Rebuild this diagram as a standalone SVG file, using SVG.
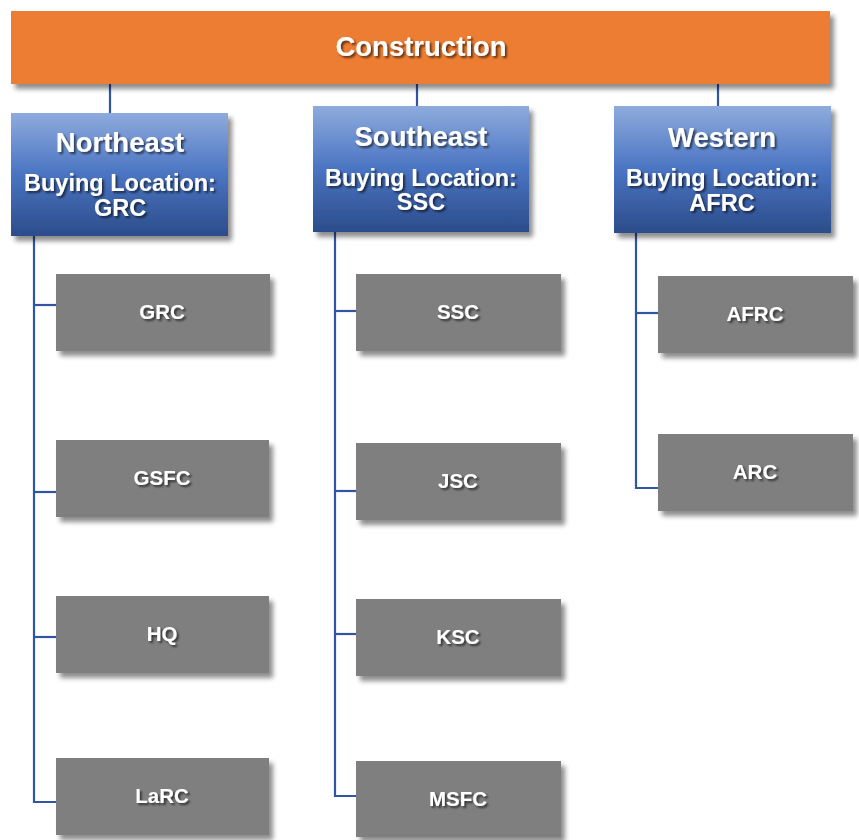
<svg xmlns="http://www.w3.org/2000/svg" width="859" height="840" viewBox="0 0 859 840">
<defs>
<linearGradient id="blueGrad" x1="0" y1="0" x2="0" y2="1">
<stop offset="0" stop-color="#8EABDD"/>
<stop offset="0.5" stop-color="#4A74C2"/>
<stop offset="1" stop-color="#2C4C8A"/>
</linearGradient>
<filter id="shadow" x="-10%" y="-10%" width="130%" height="140%">
<feGaussianBlur in="SourceAlpha" stdDeviation="2.5"/>
<feOffset dx="4" dy="5" result="b"/>
<feComponentTransfer><feFuncA type="linear" slope="0.45"/></feComponentTransfer>
<feMerge><feMergeNode/><feMergeNode in="SourceGraphic"/></feMerge>
</filter>
<filter id="tshadow" x="-10%" y="-20%" width="130%" height="150%">
<feGaussianBlur in="SourceAlpha" stdDeviation="1"/>
<feOffset dx="1.5" dy="1.5" result="b"/>
<feComponentTransfer><feFuncA type="linear" slope="0.6"/></feComponentTransfer>
<feMerge><feMergeNode/><feMergeNode in="SourceGraphic"/></feMerge>
</filter>
</defs>
<style>
text { font-family: "Liberation Sans", Arial, sans-serif; font-weight: bold; fill: #FFFFFF; text-anchor: middle; filter: url(#tshadow); }
.top { fill: #ED7D31; filter: url(#shadow); }
.region { fill: url(#blueGrad); filter: url(#shadow); }
.leaf { fill: #7F7F7F; filter: url(#shadow); }
.t1 { font-size: 27.5px; }
.t2 { font-size: 23.5px; }
.t3 { font-size: 20.5px; }
.conn { fill: none; stroke: #2F55A4; stroke-width: 2.2; }
</style>
<g id="connectors">
<path class="conn" d="M110,84 V113"/>
<path class="conn" d="M417,84 V106"/>
<path class="conn" d="M718,84 V106"/>
<path class="conn" d="M34,236 V802 H56"/>
<path class="conn" d="M34,305 H56"/>
<path class="conn" d="M34,492 H56"/>
<path class="conn" d="M34,637 H56"/>
<path class="conn" d="M335,232 V796 H356"/>
<path class="conn" d="M335,311 H356"/>
<path class="conn" d="M335,491 H356"/>
<path class="conn" d="M335,634 H356"/>
<path class="conn" d="M636,233 V488 H658"/>
<path class="conn" d="M636,313 H658"/>
</g>
<g id="construction">
<rect class="top" x="11" y="11" width="819" height="73"/>
<text class="t1" x="421" y="56">Construction</text>
</g>
<g id="northeast">
<rect class="region" x="11" y="113" width="217" height="123"/>
<text class="t1" x="120" y="152">Northeast</text>
<text class="t2" x="120" y="191">Buying Location:</text>
<text class="t2" x="120" y="216">GRC</text>
</g>
<g id="southeast">
<rect class="region" x="313" y="106" width="216" height="126"/>
<text class="t1" x="421" y="146">Southeast</text>
<text class="t2" x="421" y="186">Buying Location:</text>
<text class="t2" x="421" y="210">SSC</text>
</g>
<g id="western">
<rect class="region" x="614" y="106" width="217" height="127"/>
<text class="t1" x="722" y="147">Western</text>
<text class="t2" x="722" y="186">Buying Location:</text>
<text class="t2" x="722" y="211">AFRC</text>
</g>
<g id="ne-grc">
<rect class="leaf" x="56" y="274" width="214" height="77"/>
<text class="t3" x="162" y="319">GRC</text>
</g>
<g id="ne-gsfc">
<rect class="leaf" x="56" y="440" width="213" height="77"/>
<text class="t3" x="162" y="485">GSFC</text>
</g>
<g id="ne-hq">
<rect class="leaf" x="56" y="596" width="213" height="77"/>
<text class="t3" x="162" y="641">HQ</text>
</g>
<g id="ne-larc">
<rect class="leaf" x="56" y="758" width="213" height="77"/>
<text class="t3" x="162" y="803">LaRC</text>
</g>
<g id="se-ssc">
<rect class="leaf" x="356" y="274" width="205" height="77"/>
<text class="t3" x="458" y="319">SSC</text>
</g>
<g id="se-jsc">
<rect class="leaf" x="356" y="443" width="205" height="77"/>
<text class="t3" x="458" y="488">JSC</text>
</g>
<g id="se-ksc">
<rect class="leaf" x="356" y="599" width="205" height="77"/>
<text class="t3" x="458" y="644">KSC</text>
</g>
<g id="se-msfc">
<rect class="leaf" x="356" y="761" width="205" height="76"/>
<text class="t3" x="458" y="806">MSFC</text>
</g>
<g id="w-afrc">
<rect class="leaf" x="658" y="276" width="195" height="77"/>
<text class="t3" x="755" y="321">AFRC</text>
</g>
<g id="w-arc">
<rect class="leaf" x="658" y="434" width="195" height="77"/>
<text class="t3" x="755" y="479">ARC</text>
</g>
</svg>
